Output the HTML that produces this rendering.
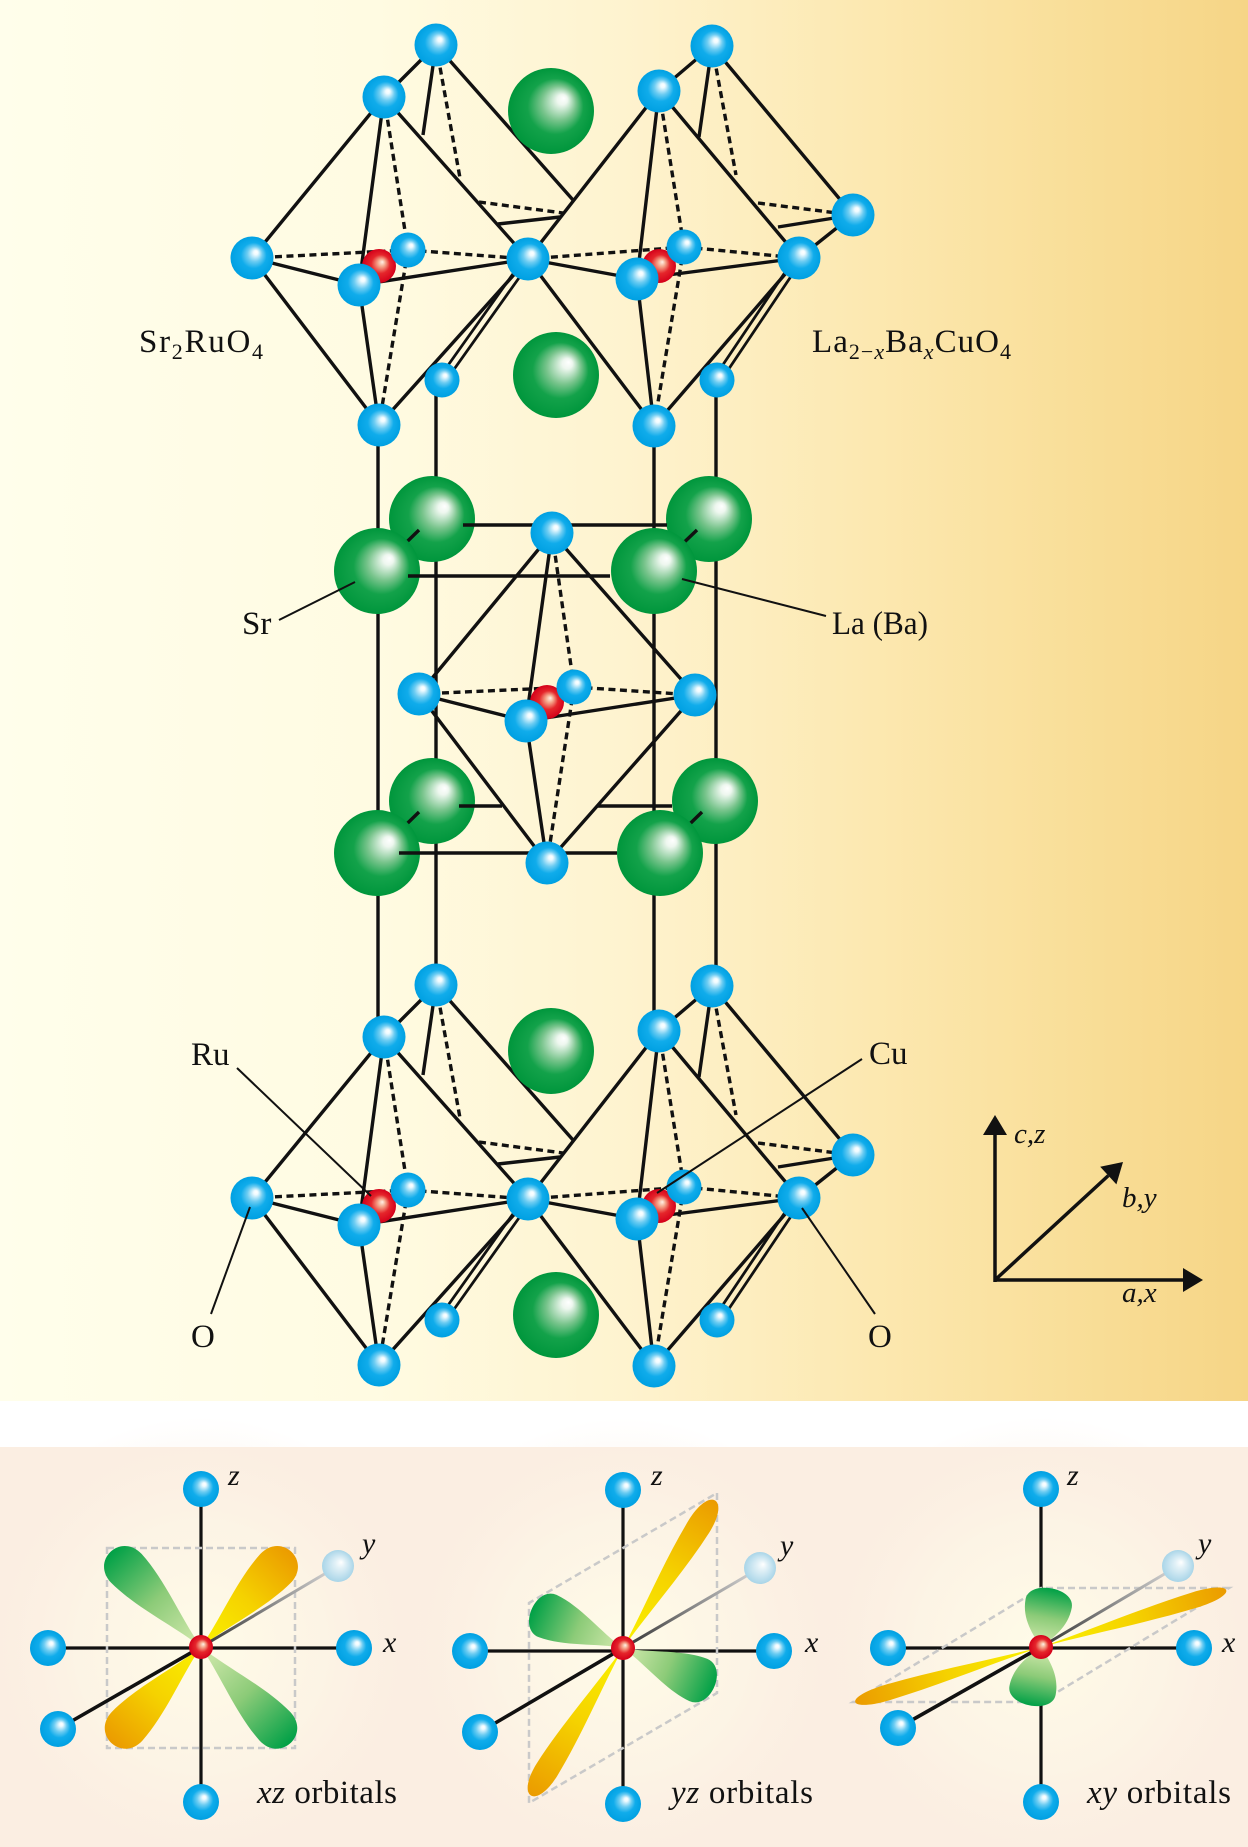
<!DOCTYPE html>
<html><head><meta charset="utf-8"><style>
html,body{margin:0;padding:0;background:#fff;overflow:hidden}
svg{display:block}
text{font-family:"Liberation Serif","DejaVu Serif",serif;fill:#111}
</style></head><body>
<svg width="1248" height="1847" viewBox="0 0 1248 1847" xmlns="http://www.w3.org/2000/svg">
<defs>
<linearGradient id="bgTop" x1="0" y1="0" x2="1" y2="0">
<stop offset="0" stop-color="#fffeeb"/><stop offset="0.3" stop-color="#fffbe2"/><stop offset="0.5" stop-color="#fef3cf"/><stop offset="0.7" stop-color="#fce8b0"/><stop offset="0.85" stop-color="#f9df9a"/><stop offset="1" stop-color="#f6d586"/>
</linearGradient>
<radialGradient id="gb" cx="0.5" cy="0.5" r="0.5" fx="0.6" fy="0.36">
<stop offset="0" stop-color="#ffffff"/><stop offset="0.1" stop-color="#f0fbff"/><stop offset="0.35" stop-color="#6cccf2"/><stop offset="0.6" stop-color="#10aceb"/><stop offset="1" stop-color="#00a0e2"/>
</radialGradient>
<radialGradient id="gg" cx="0.5" cy="0.5" r="0.5" fx="0.65" fy="0.35">
<stop offset="0" stop-color="#ffffff"/><stop offset="0.12" stop-color="#eef7ef"/><stop offset="0.4" stop-color="#78c48c"/><stop offset="0.65" stop-color="#13a24a"/><stop offset="1" stop-color="#00963c"/>
</radialGradient>
<radialGradient id="gr" cx="0.5" cy="0.5" r="0.5" fx="0.6" fy="0.38">
<stop offset="0" stop-color="#fff2e8"/><stop offset="0.22" stop-color="#f5a88c"/><stop offset="0.55" stop-color="#e5262b"/><stop offset="1" stop-color="#d4001a"/>
</radialGradient>
<radialGradient id="gp" cx="0.5" cy="0.5" r="0.5" fx="0.6" fy="0.38">
<stop offset="0" stop-color="#ffffff"/><stop offset="0.3" stop-color="#e2f1f7"/><stop offset="1" stop-color="#a9d5e8"/>
</radialGradient>
<radialGradient id="glow" cx="0.5" cy="0.5" r="0.5">
<stop offset="0" stop-color="#fffce8" stop-opacity="1"/><stop offset="0.55" stop-color="#fdf6e6" stop-opacity="0.7"/><stop offset="1" stop-color="#fbeee2" stop-opacity="0"/>
</radialGradient>
<linearGradient id="ly" x1="0" y1="0" x2="1" y2="0">
<stop offset="0" stop-color="#faf200"/><stop offset="0.5" stop-color="#f5d200"/><stop offset="1" stop-color="#eb9b00"/>
</linearGradient>
<linearGradient id="lg" x1="0" y1="0" x2="1" y2="0">
<stop offset="0" stop-color="#d6ebb0"/><stop offset="0.5" stop-color="#8ccb78"/><stop offset="1" stop-color="#00a046"/>
</linearGradient>
<linearGradient id="gl" gradientUnits="userSpaceOnUse" x1="0" y1="0" x2="137" y2="-81">
<stop offset="0" stop-color="#333"/><stop offset="1" stop-color="#dadada"/>
</linearGradient>
<path id="lobe" d="M0,0 C25,2.5 52,9.5 78,10 C100,10 100,-10 78,-10 C52,-9.5 25,-2.5 0,0Z"/>
<path id="lobeF" d="M0,0 C15,4 35,10 65,10 C95,10 95,-10 65,-10 C35,-10 15,-4 0,0Z"/>
</defs>

<!-- backgrounds -->
<rect x="0" y="0" width="1248" height="1401" fill="url(#bgTop)"/>
<rect x="0" y="1401" width="1248" height="46" fill="#ffffff"/>
<rect x="0" y="1447" width="1248" height="400" fill="#fbeee2"/>
<circle cx="201" cy="1647" r="230" fill="url(#glow)"/>
<circle cx="623" cy="1648" r="230" fill="url(#glow)"/>
<circle cx="1041" cy="1647" r="230" fill="url(#glow)"/>

<!-- vertical cell lines -->
<path d="M378,425V1037M436,380V985M654,426V1031M716,380V986" stroke="#111" stroke-width="3.4" fill="none"/>

<!-- octahedra lines (upper) -->
<g id="linesA" stroke="#111" stroke-width="3.4" fill="none">
<path d="M384,97L252,258M384,97L359,285M384,97L528,259M384,97L436,45M436,45L423,135M436,45L573,200M498,224L560,217M252,258L359,285M359,285L528,259M252,258L379,425M359,285L379,425M528,259L379,425"/>
<path stroke-width="2.8" d="M531,261L445,382M525,257L439,378"/>
<path stroke-dasharray="7 4.5" d="M384,97L408,250M436,45L460,178M479,202L563,213M252,258L408,250M408,250L528,259M408,250L379,425"/>
<path d="M659,91L528,259M659,91L637,279M659,91L799,258M659,91L712,46M712,46L699,137M712,46L853,215M778,227L853,215M528,259L637,279M637,279L799,258M799,258L853,215M528,259L654,426M637,279L654,426M799,258L654,426"/>
<path stroke-width="2.8" d="M802,260L720,382M796,256L714,378"/>
<path stroke-dasharray="7 4.5" d="M659,91L684,247M712,46L736,175M758,203L853,215M528,259L684,247M684,247L799,258M684,247L654,426"/>
</g>
<use href="#linesA" transform="translate(0,940)"/>

<!-- octahedra spheres (upper) -->
<g id="sphA">
<circle cx="551" cy="111" r="43" fill="url(#gg)"/>
<circle cx="556" cy="375" r="43" fill="url(#gg)"/>
<circle cx="379" cy="266" r="17" fill="url(#gr)"/>
<circle cx="408" cy="250" r="17.5" fill="url(#gb)"/>
<circle cx="436" cy="45" r="21.5" fill="url(#gb)"/>
<circle cx="384" cy="97" r="21.5" fill="url(#gb)"/>
<circle cx="252" cy="258" r="21.5" fill="url(#gb)"/>
<circle cx="359" cy="285" r="21.5" fill="url(#gb)"/>
<circle cx="442" cy="380" r="17.5" fill="url(#gb)"/>
<circle cx="379" cy="425" r="21.5" fill="url(#gb)"/>
<circle cx="659" cy="266" r="17" fill="url(#gr)"/>
<circle cx="684" cy="247" r="17.5" fill="url(#gb)"/>
<circle cx="712" cy="46" r="21.5" fill="url(#gb)"/>
<circle cx="659" cy="91" r="21.5" fill="url(#gb)"/>
<circle cx="853" cy="215" r="21.5" fill="url(#gb)"/>
<circle cx="637" cy="279" r="21.5" fill="url(#gb)"/>
<circle cx="717" cy="380" r="17.5" fill="url(#gb)"/>
<circle cx="654" cy="426" r="21.5" fill="url(#gb)"/>
<circle cx="528" cy="259" r="21.5" fill="url(#gb)"/>
<circle cx="799" cy="258" r="21.5" fill="url(#gb)"/>
</g>
<use href="#sphA" transform="translate(0,940)"/>

<!-- middle layer -->
<circle cx="432" cy="519" r="43" fill="url(#gg)"/>
<circle cx="709" cy="519" r="43" fill="url(#gg)"/>
<circle cx="432" cy="801" r="43" fill="url(#gg)"/>
<circle cx="715" cy="801" r="43" fill="url(#gg)"/>
<path d="M377,571L419,530M654,571L697,530M377,853L419,812M660,853L702,812M463,525H667M459,806H502M597,806H672" stroke="#111" stroke-width="3.4" fill="none"/>
<circle cx="377" cy="571" r="43" fill="url(#gg)"/>
<circle cx="654" cy="571" r="43" fill="url(#gg)"/>
<circle cx="377" cy="853" r="43" fill="url(#gg)"/>
<circle cx="660" cy="853" r="43" fill="url(#gg)"/>
<path d="M408,576H610M399,853H617" stroke="#111" stroke-width="3.4" fill="none"/>
<g stroke="#111" stroke-width="3.4" fill="none">
<path d="M552,533L419,694M552,533L526,721M552,533L695,695M419,694L526,721M526,721L695,695M419,694L547,863M526,721L547,863M695,695L547,863"/>
<path stroke-dasharray="7 4.5" d="M552,533L574,687M419,694L574,687M574,687L695,695M574,687L547,863"/>
</g>
<circle cx="547" cy="702" r="17" fill="url(#gr)"/>
<circle cx="574" cy="687" r="17.5" fill="url(#gb)"/>
<circle cx="552" cy="533" r="21.5" fill="url(#gb)"/>
<circle cx="419" cy="694" r="21.5" fill="url(#gb)"/>
<circle cx="695" cy="695" r="21.5" fill="url(#gb)"/>
<circle cx="526" cy="721" r="21.5" fill="url(#gb)"/>
<circle cx="547" cy="863" r="21.5" fill="url(#gb)"/>

<!-- label lines -->
<path d="M279,620L355,582M682,579L826,616M237,1068L371,1196M862,1059L657,1193M211,1314L250,1207M802,1208L875,1314" stroke="#111" stroke-width="2" fill="none"/>

<!-- labels -->
<text x="139" y="352" font-size="33" textLength="124" lengthAdjust="spacing">Sr<tspan font-size="22" dy="7">2</tspan><tspan dy="-7">RuO</tspan><tspan font-size="22" dy="7">4</tspan></text>
<text x="812" y="352" font-size="33" textLength="199" lengthAdjust="spacing">La<tspan font-size="22" dy="7">2−</tspan><tspan font-size="22" font-style="italic">x</tspan><tspan dy="-7">Ba</tspan><tspan font-size="22" font-style="italic" dy="7">x</tspan><tspan dy="-7">CuO</tspan><tspan font-size="22" dy="7">4</tspan></text>
<text x="242" y="634" font-size="33">Sr</text>
<text x="832" y="634" font-size="33" textLength="96" lengthAdjust="spacingAndGlyphs">La (Ba)</text>
<text x="191" y="1065" font-size="33">Ru</text>
<text x="869" y="1064" font-size="33">Cu</text>
<text x="191" y="1347" font-size="33">O</text>
<text x="868" y="1347" font-size="33">O</text>

<!-- axes -->
<g stroke="#111" stroke-width="3.5" fill="none">
<path d="M995,1282V1134M993.3,1280H1184M995,1280L1108.3,1175.6"/>
</g>
<polygon points="983,1135 1007,1135 995,1115" fill="#111"/>
<polygon points="1183,1268 1183,1292 1203,1280" fill="#111"/>
<polygon points="1116.4,1184.4 1100.2,1166.8 1123,1162" fill="#111"/>
<text x="1014" y="1143" font-size="29" font-style="italic">c,z</text>
<text x="1122" y="1207" font-size="29" font-style="italic">b,y</text>
<text x="1122" y="1302" font-size="29" font-style="italic">a,x</text>

<!-- panel 1: xz -->
<g transform="translate(201,1647)">
<path d="M0,-158V155M-153,1H153" stroke="#111" stroke-width="3.2" fill="none"/>
<rect x="-94" y="-99" width="188" height="200" fill="none" stroke="#c9c9c9" stroke-width="2.5" stroke-dasharray="7 4"/>
<use href="#lobe" fill="url(#lg)" transform="rotate(-133.5) scale(1.39,2.1)"/>
<use href="#lobe" fill="url(#ly)" transform="rotate(-46.5) scale(1.39,2.1)"/>
<use href="#lobe" fill="url(#ly)" transform="rotate(133) scale(1.39,2.1)"/>
<use href="#lobe" fill="url(#lg)" transform="rotate(47) scale(1.39,2.1)"/>
<line x1="-143" y1="82" x2="0" y2="0" stroke="#111" stroke-width="3.6"/>
<line x1="0" y1="0" x2="137" y2="-81" stroke="url(#gl)" stroke-width="3"/>
<circle cx="137" cy="-81" r="16" fill="url(#gp)"/>
<circle cx="0" cy="-158" r="18" fill="url(#gb)"/>
<circle cx="0" cy="155" r="18" fill="url(#gb)"/>
<circle cx="-153" cy="1" r="18" fill="url(#gb)"/>
<circle cx="153" cy="1" r="18" fill="url(#gb)"/>
<circle cx="-143" cy="82" r="18" fill="url(#gb)"/>
<circle cx="0" cy="0" r="12" fill="url(#gr)"/>
<text x="27" y="-162" font-size="30" font-style="italic">z</text>
<text x="182" y="5" font-size="30" font-style="italic">x</text>
<text x="161" y="-94" font-size="30" font-style="italic">y</text>
</g>
<text x="257" y="1803" font-size="33" textLength="140" lengthAdjust="spacing"><tspan font-style="italic">xz</tspan> orbitals</text>

<!-- panel 2: yz -->
<g transform="translate(623,1648)">
<path d="M0,-158V156M-153,3H151" stroke="#111" stroke-width="3.2" fill="none"/>
<polygon points="94,-155 94,45 -94,155 -94,-45" fill="none" stroke="#c9c9c9" stroke-width="2.5" stroke-dasharray="7 4"/>
<use href="#lobe" fill="url(#lg)" transform="rotate(-157) scale(1.05,2.3)"/>
<use href="#lobe" fill="url(#lg)" transform="rotate(23) scale(1.05,2.3)"/>
<use href="#lobe" fill="url(#ly)" transform="rotate(-58) scale(1.84,1.2)"/>
<use href="#lobe" fill="url(#ly)" transform="rotate(122) scale(1.84,1.2)"/>
<line x1="-143" y1="84" x2="0" y2="0" stroke="#111" stroke-width="3.6"/>
<line x1="0" y1="0" x2="137" y2="-80" stroke="url(#gl)" stroke-width="3"/>
<circle cx="137" cy="-80" r="16" fill="url(#gp)"/>
<circle cx="0" cy="-158" r="18" fill="url(#gb)"/>
<circle cx="0" cy="156" r="18" fill="url(#gb)"/>
<circle cx="-153" cy="3" r="18" fill="url(#gb)"/>
<circle cx="151" cy="3" r="18" fill="url(#gb)"/>
<circle cx="-143" cy="84" r="18" fill="url(#gb)"/>
<circle cx="0" cy="0" r="12" fill="url(#gr)"/>
<text x="28" y="-163" font-size="30" font-style="italic">z</text>
<text x="182" y="4" font-size="30" font-style="italic">x</text>
<text x="157" y="-93" font-size="30" font-style="italic">y</text>
</g>
<text x="671" y="1803" font-size="33" textLength="142" lengthAdjust="spacing"><tspan font-style="italic">yz</tspan> orbitals</text>

<!-- panel 3: xy -->
<g transform="translate(1041,1647)">
<path d="M0,-158V155M-153,1H153" stroke="#111" stroke-width="3.2" fill="none"/>
<polygon points="188,-59 0,-59 -188,55 0,55" fill="none" stroke="#c9c9c9" stroke-width="2.5" stroke-dasharray="7 4"/>
<use href="#lobe" fill="url(#ly)" transform="rotate(-17) scale(2.05,0.8)"/>
<use href="#lobe" fill="url(#ly)" transform="rotate(163.5) scale(2.05,0.8)"/>
<use href="#lobeF" fill="url(#lg)" transform="rotate(-80) scale(0.68,2.35)"/>
<use href="#lobeF" fill="url(#lg)" transform="rotate(101) scale(0.68,2.35)"/>
<line x1="-143" y1="81" x2="0" y2="0" stroke="#111" stroke-width="3.6"/>
<line x1="0" y1="0" x2="137" y2="-81" stroke="url(#gl)" stroke-width="3"/>
<circle cx="137" cy="-81" r="16" fill="url(#gp)"/>
<circle cx="0" cy="-158" r="18" fill="url(#gb)"/>
<circle cx="0" cy="155" r="18" fill="url(#gb)"/>
<circle cx="-153" cy="1" r="18" fill="url(#gb)"/>
<circle cx="153" cy="1" r="18" fill="url(#gb)"/>
<circle cx="-143" cy="81" r="18" fill="url(#gb)"/>
<circle cx="0" cy="0" r="12" fill="url(#gr)"/>
<text x="26" y="-162" font-size="30" font-style="italic">z</text>
<text x="181" y="5" font-size="30" font-style="italic">x</text>
<text x="157" y="-94" font-size="30" font-style="italic">y</text>
</g>
<text x="1087" y="1803" font-size="33" textLength="144" lengthAdjust="spacing"><tspan font-style="italic">xy</tspan> orbitals</text>
</svg>
</body></html>
